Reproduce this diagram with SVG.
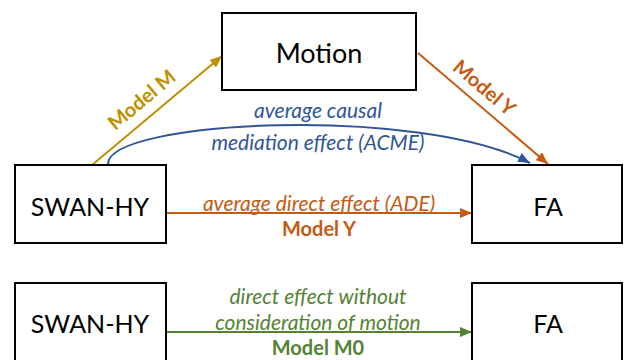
<svg xmlns="http://www.w3.org/2000/svg" width="628" height="360" viewBox="0 0 628 360">
<style>
.box{fill:#fff;stroke:#000;stroke-width:2}
.nt{font-family:Lato,"Open Sans",sans-serif;font-size:25px;fill:#000;text-anchor:middle;dominant-baseline:central}
.lab{font-family:Lato,"Open Sans",sans-serif;font-size:21px;text-anchor:middle;dominant-baseline:central}
.it{font-style:italic}
.b{font-weight:bold;font-size:20px}
.gold{fill:#BF9000}.orange{fill:#C55A11}.blue{fill:#2F5597}.green{fill:#548235}
.ln{fill:none;stroke-width:2}
</style>
<defs>
<marker id="aGold" viewBox="0 0 12 10" refX="12" refY="5" markerWidth="12" markerHeight="10" markerUnits="userSpaceOnUse" orient="auto"><path d="M0,0L12,5L0,10z" fill="#BF9000"/></marker>
<marker id="aOrange" viewBox="0 0 12 10" refX="12" refY="5" markerWidth="12" markerHeight="10" markerUnits="userSpaceOnUse" orient="auto"><path d="M0,0L12,5L0,10z" fill="#C55A11"/></marker>
<marker id="aBlue" viewBox="0 0 12 10" refX="12" refY="5" markerWidth="12" markerHeight="10" markerUnits="userSpaceOnUse" orient="auto"><path d="M0,0L12,5L0,10z" fill="#2F5597"/></marker>
<marker id="aGreen" viewBox="0 0 12 10" refX="12" refY="5" markerWidth="12" markerHeight="10" markerUnits="userSpaceOnUse" orient="auto"><path d="M0,0L12,5L0,10z" fill="#548235"/></marker>
</defs>
<g id="connectors">
<path class="ln" stroke="#BF9000" d="M92,165L222,56" marker-end="url(#aGold)"/>
<path class="ln" stroke="#C55A11" d="M418,53L548,164" marker-end="url(#aOrange)"/>
<path class="ln" stroke="#2F5597" d="M108,164C108,120 420,105 530,163" marker-end="url(#aBlue)"/>
<path class="ln" stroke="#C55A11" d="M166,213L472,213" marker-end="url(#aOrange)"/>
<path class="ln" stroke="#548235" d="M166,332L472,332" marker-end="url(#aGreen)"/>
<text class="lab b gold" transform="translate(141,99) rotate(-40)">Model M</text>
<text class="lab b orange" transform="translate(485,87) rotate(40)">Model Y</text>
<text class="lab it blue" x="318" y="109">average causal</text>
<text class="lab it blue" x="318" y="141">mediation effect (ACME)</text>
<text class="lab it orange" x="319" y="202">average direct effect (ADE)</text>
<text class="lab b orange" x="319" y="228">Model Y</text>
<text class="lab it green" x="318" y="295">direct effect without</text>
<text class="lab it green" x="318" y="321">consideration of motion</text>
<text class="lab b green" x="318" y="347">Model M0</text>
</g>
<g id="motion"><rect class="box" x="222" y="13" width="194" height="77"/><text class="nt" x="319" y="52" style="font-size:27px">Motion</text></g>
<g id="swan1"><rect class="box" x="15" y="165" width="151" height="78"/><text class="nt" x="90" y="206">SWAN-HY</text></g>
<g id="fa1"><rect class="box" x="472" y="165" width="150" height="78"/><text class="nt" x="548" y="206">FA</text></g>
<g id="swan2"><rect class="box" x="15" y="283" width="151" height="78"/><text class="nt" x="90" y="323">SWAN-HY</text></g>
<g id="fa2"><rect class="box" x="472" y="283" width="150" height="78"/><text class="nt" x="548" y="323">FA</text></g>
</svg>
